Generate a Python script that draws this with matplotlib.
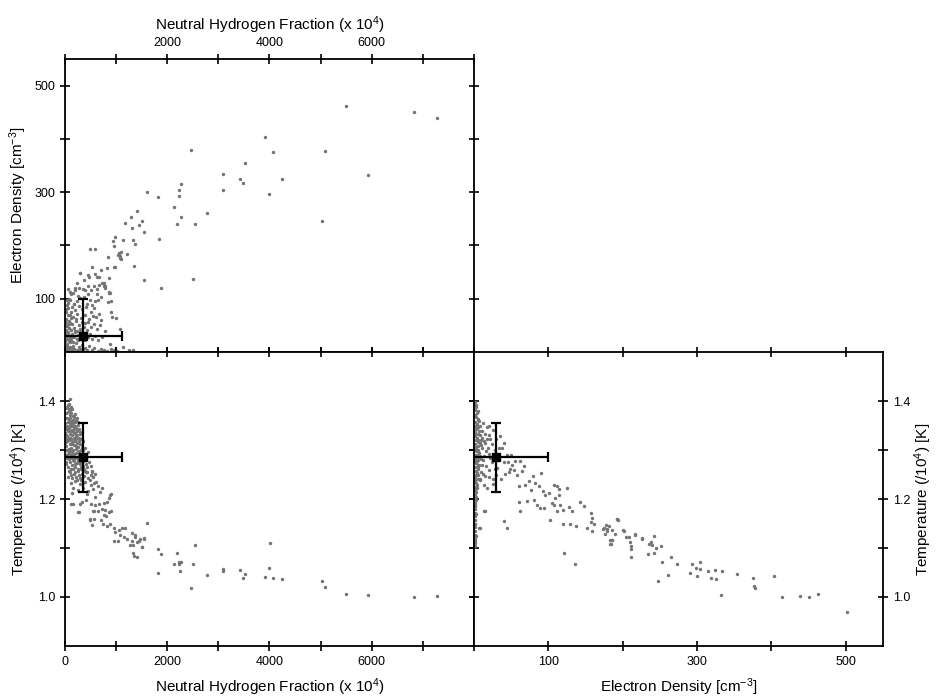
import matplotlib
matplotlib.use("Agg")
import matplotlib.pyplot as plt

plt.rcParams['font.family'] = ['Liberation Sans', 'DejaVu Sans']
plt.rcParams['mathtext.fontset'] = 'custom'
plt.rcParams['mathtext.rm'] = 'Liberation Sans'
plt.rcParams['mathtext.it'] = 'Liberation Sans'
plt.rcParams['mathtext.default'] = 'regular'

# ---- data ----
# panel 1: neutral hydrogen fraction (x 10^4) vs electron density [cm^-3]
hfrac_a = [5494, 6830, 7286, 3904, 2470, 4073, 5083, 3513, 3083, 3428, 3487, 4242, 5924, 3083, 3982,
           1818, 2262, 2222, 2229, 2137, 2262, 2782, 2196, 2541, 5024, 1831, 2509, 1877, 1597, 1551,
           1414, 1284, 1179, 1512, 1453, 1303, 1551, 978, 945, 1140, 1336, 1375, 489, 580, 958,
           1219, 1050, 1080, 1100, 1070, 1095, 1030, 847, 1355, 958, 985, 815, 704, 534, 293,
           456, 632, 866, 762, 782, 860, 847, 899, 919, 997, 1081, 1140, 1250, 1340, 886,
           235, 280, 345, 397, 450, 515, 560, 626, 658, 723, 756, 789, 854, 886, 124, 189, 300, 378, 463, 580, 658,
           39, 104, 170, 235, 300, 430, 495, 528, 593, 645, 710, 906, 260, 370, 455, 620,
           20, 60, 95, 130, 165, 200, 245, 275, 310, 340, 390, 420, 470, 500, 545, 575, 610, 660, 700,
           15, 45, 80, 110, 140, 175, 210, 240, 270, 300, 330, 365, 400, 430, 460, 510, 560, 620, 690, 780,
           10, 35, 60, 85, 115, 145, 175, 205, 230, 260, 290, 320, 350, 385, 415, 450, 490, 530, 580, 640, 720,
           5, 20, 40, 65, 90, 120, 150, 180, 210, 240, 270, 300, 330, 360, 395, 430, 470, 520, 570, 640,
           700, 760, 830, 900, 960, 1020, 25, 55, 100, 160, 280, 350,
           8, 18, 30, 50, 70, 100, 28, 75, 130, 12, 40, 70, 90, 150, 55, 200,
           30, 65, 110, 150, 190, 250, 15, 50, 85, 120, 175, 225, 35, 95, 140, 60]
ne_a = [462, 451, 439, 404, 379, 375, 377, 355, 334, 324, 318, 325, 332, 305, 297,
        291, 315, 304, 292, 273, 253, 261, 241, 241, 246, 212, 137, 121, 300, 136,
        265, 253, 243, 245, 238, 233, 226, 215, 209, 211, 211, 203, 193, 193, 199,
        184, 186, 181, 188, 177, 175, 182, 179, 162, 160, 160, 157, 154, 160, 149,
        144, 141, 138, 129, 123, 111, 94, 75, 66, 63, 44, 10, 4, 3, 15,
        129, 121, 118, 116, 124, 116, 124, 118, 126, 129, 124, 121, 113, 111, 109, 116, 149, 135, 141, 146, 141,
        98, 98, 91, 95, 101, 91, 98, 88, 95, 98, 103, 95, 106, 104, 108, 108,
        75, 82, 70, 85, 66, 78, 72, 86, 64, 80, 70, 84, 62, 76, 68, 82, 65, 72, 60,
        55, 48, 58, 42, 52, 45, 58, 40, 50, 44, 56, 47, 54, 42, 57, 46, 52, 44, 50, 40,
        35, 25, 38, 30, 22, 34, 28, 37, 24, 31, 38, 26, 33, 22, 36, 28, 33, 25, 30, 23, 28,
        12, 5, 15, 8, 18, 4, 12, 6, 16, 3, 10, 5, 14, 2, 8, 4, 11, 3, 7, 2,
        5, 3, 2, 6, 3, 2, 2, 1, 9, 2, 1, 6,
        20, 42, 62, 70, 45, 55, 30, 20, 28, 60, 88, 100, 112, 110, 118, 120,
        48, 36, 64, 18, 40, 22, 80, 92, 52, 76, 90, 62, 12, 26, 8, 4]

# panel 2: neutral hydrogen fraction vs temperature (/10^4 K)
hfrac_b = [1812, 1877, 2190, 2542, 4015, 2138, 2222, 2262, 2236, 2509, 2255, 1812, 2783, 3083, 3083,
           3428, 3513, 3487, 3982, 3904, 4073, 4243, 2470, 5025, 5083, 5494, 5924, 6830, 7286, 1597,
           1545, 1460, 1303, 1368, 1401, 1323, 1323, 1401, 1343, 1512,
           528, 723, 906, 867, 821, 756, 660, 590, 510, 420, 340, 290, 150, 280, 906, 854, 790, 723, 645,
           567, 756, 802, 495, 560, 528, 710, 736, 821, 886, 952, 984, 1049, 1114, 1180, 1082, 1147,
           1212, 952, 1036, 1310, 1362, 1453, 1505, 1538, 1277, 880, 553, 260, 111, 489,
           104, 85, 120, 140, 95,
           30, 60, 90, 120, 150, 180, 200, 45, 75, 105, 135, 165, 215, 240,
           10, 35, 55, 80, 100, 125, 150, 175, 200, 225, 250, 275, 20, 65, 140, 190, 260,
           5, 30, 50, 75, 95, 120, 145, 170, 195, 220, 245, 270, 300, 320, 15, 60, 110, 160, 235, 285,
           8, 28, 48, 70, 90, 115, 140, 160, 185, 210, 235, 260, 285, 310, 335, 360, 40, 130, 200, 250, 390,
           20, 45, 70, 95, 120, 150, 175, 200, 225, 255, 280, 310, 340, 365, 395, 420, 445,
           30, 60, 90, 115, 145, 170, 200, 230, 260, 290, 320, 350, 380, 410, 440, 470, 500,
           60, 100, 140, 180, 220, 260, 300, 340, 380, 420, 460, 500, 540, 580,
           110, 160, 200, 250, 300, 350, 400, 450, 500, 550, 600, 640, 680, 140, 430, 590,
           15, 40, 70, 55, 25, 85, 115, 160, 185, 210, 5, 45, 85, 130, 175, 225, 270,
           15, 55, 105, 165, 240, 300, 330, 20, 75, 135, 190, 250, 305, 360, 430,
           80, 125, 160, 200, 240, 280, 320, 360, 395, 480, 520, 560, 10, 35, 100, 150, 265, 350, 380]
temp_b = [1.097, 1.088, 1.090, 1.107, 1.111, 1.067, 1.071, 1.071, 1.068, 1.067, 1.054, 1.048, 1.044, 1.058, 1.054,
          1.056, 1.046, 1.038, 1.060, 1.041, 1.038, 1.037, 1.019, 1.032, 1.021, 1.007, 1.005, 1.000, 1.002, 1.151,
          1.119, 1.119, 1.131, 1.122, 1.113, 1.107, 1.090, 1.082, 1.083, 1.102,
          1.255, 1.222, 1.210, 1.202, 1.194, 1.192, 1.190, 1.188, 1.190, 1.198, 1.193, 1.190, 1.190, 1.173, 1.176, 1.174, 1.178, 1.180, 1.176,
          1.176, 1.168, 1.165, 1.158, 1.160, 1.146, 1.158, 1.148, 1.144, 1.149, 1.141, 1.133, 1.136, 1.141, 1.140, 1.126, 1.122,
          1.119, 1.114, 1.115, 1.115, 1.127, 1.114, 1.102, 1.120, 1.107, 1.209, 1.175, 1.173, 1.190, 1.159,
          1.405, 1.393, 1.388, 1.384, 1.382,
          1.375, 1.378, 1.372, 1.376, 1.370, 1.368, 1.374, 1.365, 1.362, 1.366, 1.360, 1.362, 1.361, 1.366,
          1.355, 1.350, 1.357, 1.345, 1.352, 1.348, 1.355, 1.342, 1.350, 1.345, 1.352, 1.342, 1.342, 1.340, 1.341, 1.357, 1.358,
          1.335, 1.330, 1.338, 1.325, 1.333, 1.322, 1.330, 1.325, 1.335, 1.322, 1.330, 1.325, 1.332, 1.322, 1.322, 1.320, 1.338, 1.338, 1.338, 1.337,
          1.315, 1.308, 1.318, 1.302, 1.312, 1.305, 1.316, 1.300, 1.310, 1.303, 1.315, 1.306, 1.312, 1.300, 1.310, 1.318, 1.300, 1.295, 1.318, 1.296, 1.305,
          1.290, 1.283, 1.295, 1.285, 1.290, 1.280, 1.292, 1.284, 1.293, 1.282, 1.290, 1.285, 1.292, 1.280, 1.290, 1.284, 1.295,
          1.272, 1.265, 1.276, 1.262, 1.270, 1.278, 1.266, 1.274, 1.262, 1.272, 1.266, 1.278, 1.262, 1.272, 1.265, 1.276, 1.268,
          1.245, 1.255, 1.242, 1.252, 1.245, 1.257, 1.243, 1.252, 1.246, 1.255, 1.242, 1.250, 1.244, 1.252,
          1.232, 1.222, 1.236, 1.218, 1.230, 1.222, 1.235, 1.216, 1.228, 1.220, 1.235, 1.226, 1.215, 1.212, 1.210, 1.205,
          1.385, 1.388, 1.383, 1.392, 1.365, 1.357, 1.356, 1.350, 1.335, 1.328, 1.345, 1.328, 1.320, 1.312, 1.318, 1.308, 1.298,
          1.300, 1.292, 1.298, 1.288, 1.286, 1.275, 1.305, 1.275, 1.282, 1.283, 1.272, 1.278, 1.262, 1.268, 1.255,
          1.258, 1.248, 1.262, 1.255, 1.238, 1.250, 1.238, 1.232, 1.258, 1.238, 1.258, 1.232, 1.330, 1.318, 1.325, 1.338, 1.318, 1.300, 1.285]

# panel 3: electron density vs temperature
ne_c = [173, 178, 179, 176, 185, 189, 183, 186, 183, 192, 193, 201, 205, 216, 210, 211, 211, 226, 238, 242,
        240, 245, 242, 234, 252, 253, 265, 273, 247, 261, 293, 304, 298, 304, 291, 300, 315, 324, 334, 319,
        325, 332, 354, 375, 377, 378, 403, 414, 439, 451, 462, 502,
        17.5, 35.5, 34.1, 37.7, 40, 24.2, 10.8, 19.8, 31, 15.3, 25.1, 13, 50.3, 45.8, 51.2, 42.2, 46.7,
        10.8, 15.3, 19.8, 22, 10.8, 17.5, 15.3, 18.9, 10.8, 16.2, 19.8, 13, 8.5,
        55.7, 62.4, 66.9, 53.4, 57.9, 64.6, 79.5, 90.7, 73.6, 69.1, 60.2, 82.6, 87.1, 77.2, 92.5, 96.1,
        101.5, 107.3, 111.8, 114.9, 124.8, 109.5, 114.9, 60.2, 71.4, 80.4, 84.8, 89.3, 93.8, 105, 107.3,
        116.3, 119.4, 111.8, 127.5, 132, 141.9, 147.7, 156.7, 158.9, 156.7, 161.2, 152.2, 158.9, 174.6,
        181.4, 179.1, 192.6, 185.9, 183.6, 201.6, 208.3, 216.4, 226.3, 210.5, 235.2, 101.9, 119.4, 129.7,
        136.5, 62.4, 14.4, 40, 44.4, 8.5, 121.2, 136.4, 13.5, 7,
        2, 1, 3, 2, 4, 1, 3, 5, 2, 4, 1, 6, 3, 2, 5, 1, 4, 3, 6, 2, 5, 1, 4, 3, 7, 2, 5, 1, 4, 3,
        6, 2, 5, 1, 4, 3, 2, 5, 1, 3, 4, 2, 1, 3, 2, 1, 3, 2, 1, 2, 1, 2, 1, 2, 1, 2, 1, 2, 1, 2,
        7, 8, 6, 9, 7, 8, 10, 8, 6, 9,
        3, 5, 2, 6, 4, 7, 2, 5, 8, 3, 6, 4, 9, 2, 6, 3, 5, 2, 4, 3, 2, 3, 2, 3, 1,
        12, 20, 26, 14, 24, 28, 12, 22, 28, 16, 20, 12, 30, 8, 18, 25, 36, 44, 40, 30, 48]
temp_c = [1.139, 1.146, 1.139, 1.129, 1.136, 1.129, 1.117, 1.116, 1.109, 1.160, 1.157, 1.136, 1.122, 1.129, 1.112, 1.097, 1.081, 1.120, 1.113, 1.124,
          1.106, 1.101, 1.090, 1.088, 1.105, 1.071, 1.082, 1.067, 1.032, 1.044, 1.067, 1.071, 1.060, 1.058, 1.048, 1.042, 1.054, 1.056, 1.054, 1.038,
          1.037, 1.005, 1.046, 1.038, 1.022, 1.019, 1.042, 1.000, 1.002, 1.000, 1.007, 0.969,
          1.346, 1.328, 1.305, 1.304, 1.275, 1.275, 1.270, 1.260, 1.263, 1.246, 1.240, 1.229, 1.289, 1.276, 1.270, 1.251, 1.255,
          1.338, 1.333, 1.331, 1.323, 1.324, 1.323, 1.314, 1.305, 1.304, 1.297, 1.291, 1.287, 1.287,
          1.277, 1.278, 1.267, 1.260, 1.250, 1.257, 1.246, 1.254, 1.236, 1.229, 1.226, 1.233, 1.226, 1.219, 1.217, 1.209,
          1.212, 1.229, 1.226, 1.221, 1.222, 1.202, 1.208, 1.194, 1.195, 1.197, 1.188, 1.182, 1.182, 1.192, 1.187,
          1.188, 1.178, 1.175, 1.183, 1.175, 1.193, 1.186, 1.171, 1.161, 1.153, 1.149, 1.141, 1.134, 1.140,
          1.144, 1.134, 1.160, 1.117, 1.108, 1.134, 1.122, 1.127, 1.119, 1.104, 1.108, 1.158, 1.148, 1.148,
          1.144, 1.176, 1.176, 1.156, 1.141, 1.141, 1.090, 1.067, 1.175, 1.141,
          1.398, 1.392, 1.387, 1.381, 1.376, 1.372, 1.368, 1.363, 1.358, 1.354, 1.350, 1.346, 1.342, 1.337, 1.333,
          1.329, 1.325, 1.321, 1.317, 1.313, 1.309, 1.305, 1.301, 1.297, 1.293, 1.289, 1.285, 1.281, 1.277, 1.273,
          1.269, 1.265, 1.261, 1.257, 1.253, 1.249, 1.244, 1.240, 1.236, 1.232, 1.228, 1.224, 1.219, 1.214, 1.209,
          1.204, 1.198, 1.192, 1.186, 1.180, 1.172, 1.165, 1.158, 1.150, 1.143, 1.135, 1.127, 1.118, 1.110, 1.105,
          1.360, 1.330, 1.300, 1.310, 1.270, 1.240, 1.320, 1.350, 1.280, 1.255,
          1.392, 1.380, 1.370, 1.362, 1.345, 1.338, 1.330, 1.320, 1.315, 1.306, 1.298, 1.290, 1.282, 1.276, 1.266,
          1.258, 1.248, 1.238, 1.222, 1.205, 1.188, 1.170, 1.150, 1.125, 1.115,
          1.355, 1.348, 1.340, 1.318, 1.312, 1.300, 1.280, 1.284, 1.262, 1.268, 1.245, 1.252, 1.250, 1.238, 1.222,
          1.230, 1.240, 1.290, 1.315, 1.322, 1.262]

# mean values with error bars
mean_hfrac, err_hfrac = 360, 760
mean_ne, err_ne = 30, 70
mean_temp, err_temp = 1.285, 0.071

hfrac_ticks = [0, 1000, 2000, 3000, 4000, 5000, 6000, 7000, 8000]
ne_ticks = [100, 200, 300, 400, 500]
temp_ticks = [1.0, 1.1, 1.2, 1.3, 1.4]

xlab_h = 'Neutral Hydrogen Fraction (x 10$^4$)'
lab_ne = 'Electron Density [cm$^{-3}$]'
lab_t = 'Temperature (/10$^4$) [K]'

dot_col = '#747474'
fs_tick = 9
fs_lab = 11

fig = plt.figure(figsize=(9.36, 6.98), dpi=100)
ax1 = fig.add_axes([0.0694, 0.4957, 0.437, 0.4198])
ax2 = fig.add_axes([0.0694, 0.0745, 0.437, 0.4212])
ax3 = fig.add_axes([0.5064, 0.0745, 0.437, 0.4212])

for ax in (ax1, ax2, ax3):
    for sp in ax.spines.values():
        sp.set_linewidth(1.3)
    ax.tick_params(direction='inout', length=7, width=1.2, labelsize=fs_tick,
                   top=True, bottom=True, left=True, right=True)

ebar = dict(fmt='s', color='black', ms=6, lw=1.6, capsize=3.5, capthick=1.6, zorder=5)

# top left
ax1.scatter(hfrac_a, ne_a, s=6, color=dot_col, linewidths=0, zorder=2)
ax1.errorbar(mean_hfrac, mean_ne, xerr=err_hfrac, yerr=err_ne, **ebar)
ax1.set_xlim(0, 8000)
ax1.set_ylim(0, 550)
ax1.set_xticks(hfrac_ticks)
ax1.set_xticklabels(['', '', '2000', '', '4000', '', '6000', '', ''])
ax1.set_yticks(ne_ticks)
ax1.set_yticklabels(['100', '', '300', '', '500'])
ax1.tick_params(labeltop=True, labelbottom=False)
ax1.xaxis.set_label_position('top')
ax1.set_xlabel(xlab_h, fontsize=fs_lab, labelpad=5)
ax1.set_ylabel(lab_ne, fontsize=fs_lab, labelpad=4)

# bottom left
ax2.scatter(hfrac_b, temp_b, s=6, color=dot_col, linewidths=0, zorder=2)
ax2.errorbar(mean_hfrac, mean_temp, xerr=err_hfrac, yerr=err_temp, **ebar)
ax2.set_xlim(0, 8000)
ax2.set_ylim(0.9, 1.5)
ax2.set_xticks(hfrac_ticks)
ax2.set_xticklabels(['0', '', '2000', '', '4000', '', '6000', '', ''])
ax2.set_yticks(temp_ticks)
ax2.set_yticklabels(['1.0', '', '1.2', '', '1.4'])
ax2.set_xlabel(xlab_h, fontsize=fs_lab, labelpad=6)
ax2.set_ylabel(lab_t, fontsize=fs_lab, labelpad=6)

# bottom right
ax3.scatter(ne_c, temp_c, s=6, color=dot_col, linewidths=0, zorder=2)
ax3.errorbar(mean_ne, mean_temp, xerr=err_ne, yerr=err_temp, **ebar)
ax3.set_xlim(0, 550)
ax3.set_ylim(0.9, 1.5)
ax3.set_xticks(ne_ticks)
ax3.set_xticklabels(['100', '', '300', '', '500'])
ax3.set_yticks(temp_ticks)
ax3.set_yticklabels(['1.0', '', '1.2', '', '1.4'])
ax3.tick_params(labelleft=False, labelright=True)
ax3.yaxis.set_label_position('right')
ax3.set_xlabel(lab_ne, fontsize=fs_lab, labelpad=6)
ax3.set_ylabel(lab_t, fontsize=fs_lab, labelpad=2)

fig.savefig('out.png', dpi=100)
